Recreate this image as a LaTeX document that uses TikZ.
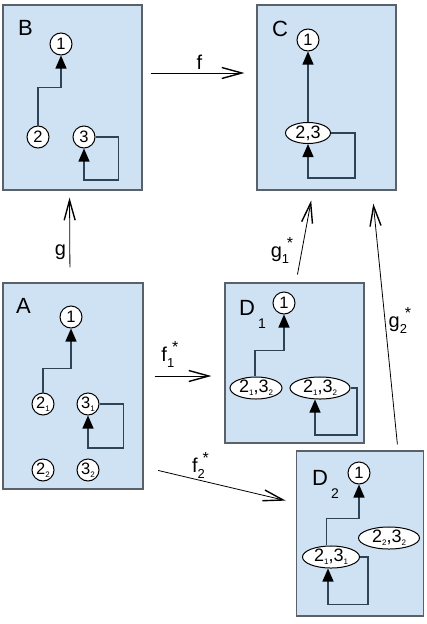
\documentclass[tikz,border=0pt]{standalone}
\usepackage{fontspec}
\setmainfont{Liberation Sans}
\usetikzlibrary{arrows.meta, shapes.geometric}

\definecolor{boxfill}{HTML}{CFE2F3}
\definecolor{boxline}{HTML}{5B6168}
\definecolor{linkline}{HTML}{2D4456}

\newcommand{\lowix}[1]{\raisebox{-3pt}{\fontsize{8}{8}\selectfont #1}}
\newcommand{\mapix}[2]{#1\rlap{\hspace{5pt}\raisebox{9pt}{\fontsize{16}{16}\selectfont *}}\raisebox{-6pt}{\fontsize{13}{13}\selectfont #2}}
\newcommand{\boxix}[2]{#1\hspace{3pt}\raisebox{-13pt}{\fontsize{14}{14}\selectfont #2}}

\begin{document}
\begin{tikzpicture}[x=1pt, y=-1pt,
  panel/.style={draw=boxline, fill=boxfill, line width=1.2pt, minimum width=139pt, inner sep=0pt},
  vert/.style={circle, draw=black, fill=white, line width=1pt, inner sep=0pt, minimum size=22pt, font=\fontsize{16.5}{16.5}\selectfont},
  merged/.style={ellipse, draw=black, fill=white, line width=1pt, inner sep=0pt, minimum height=19pt, font=\fontsize{18}{18}\selectfont},
  link/.style={draw=linkline, line width=1.2pt, -{Triangle[length=13pt, width=11pt, color=black]}},
  map/.style={line width=0.8pt, -{Straight Barb[length=20pt, width=11pt, line width=1.4pt]}},
  boxlabel/.style={font=\fontsize{22}{22}\selectfont, anchor=base west, inner sep=0pt},
  maplabel/.style={font=\fontsize{20}{20}\selectfont}]
  \useasboundingbox (0,0) rectangle (426,624);

  % the five panels
  \node[panel, minimum height=185pt] (boxB) at (72.5,97.5) {};
  \node[panel, minimum height=185pt] (boxC) at (326.5,97.5) {};
  \node[panel, minimum width=140pt, minimum height=206pt] (boxA) at (73,386) {};
  \node[panel, minimum height=160pt] (boxD1) at (294.5,363) {};
  \node[panel, minimum width=127pt, minimum height=165pt] (boxD2) at (360,533.5) {};

  % panel B
  \node[boxlabel] (labB) at (18,35) {B};
  \node[vert] (B1) at (61,44) {1};
  \node[vert] (B2) at (38,137) {2};
  \node[vert] (B3) at (84,137) {3};
  \draw[link] (B2.north) -- ++(0,-38) -| (B1.south);
  \draw[link] (B3.east) -| ++(23,43) -| (B3.south);

  % panel C
  \node[boxlabel] (labC) at (272,36) {C};
  \node[vert] (C1) at (308,40) {1};
  \node[merged, minimum width=45pt] (C23) at (308,133) {2,3};
  \draw[link] (C23.north) -- (C1.south);
  \draw[link] (C23.east) -| ++(24,45) -| (C23.south);

  % panel A
  \node[boxlabel] (labA) at (16,313) {A};
  \node[vert] (A1) at (71,317) {1};
  \node[vert] (A21) at (43,404) {2\lowix{1}};
  \node[vert] (A31) at (88,404) {3\lowix{1}};
  \node[vert] (A22) at (43,470) {2\lowix{2}};
  \node[vert] (A32) at (88,470) {3\lowix{2}};
  \draw[link] (A21.north) -- ++(0,-24) -| (A1.south);
  \draw[link] (A31.east) -| ++(24,44) -| (A31.south);

  % panel D_1
  \node[boxlabel] (labD1) at (239,315) {\boxix{D}{1}};
  \node[vert] (D11) at (284,303) {1};
  \node[merged, minimum width=52pt] (D1a) at (256,388) {2\lowix{1},3\lowix{2}};
  \node[merged, minimum width=60pt] (D1b) at (320,388) {2\lowix{1},3\lowix{2}};
  \draw[link] ([xshift=-1pt]D1a.north) -- ++(0,-26) -| (D11.south);
  \draw[link] (D1b.east) -| ++(6.5,47) -| ([xshift=-5pt]D1b.south);

  % panel D_2
  \node[boxlabel] (labD2) at (312,485) {\boxix{D}{2}};
  \node[vert] (D21) at (359,473) {1};
  \node[merged, minimum width=57pt] (D2a) at (331,557) {2\lowix{1},3\lowix{1}};
  \node[merged, minimum width=61pt] (D2b) at (389,538) {2\lowix{2},3\lowix{2}};
  \draw[link] ([xshift=-4.5pt]D2a.north) -- ++(0,-27) -| (D21.south);
  \draw[link] (D2a.east) -| ++(8,47.5) -| ([xshift=-3pt]D2a.south);

  % maps between the panels
  \draw[map, shorten <=8pt, shorten >=12pt]
    ([yshift=24.5pt]boxB.east) -- node[maplabel, above] {f} ([yshift=24.5pt]boxC.west);
  \draw[map, shorten <=15pt, shorten >=7pt]
    ([xshift=-3pt]boxA.north) -- node[maplabel, left, pos=0.3, yshift=3pt] {g} ([xshift=-3pt]boxB.south);
  \draw[map, shorten <=8pt, shorten >=10pt]
    ([xshift=1.5pt]boxD1.north) -- node[maplabel, left, pos=0.35, xshift=-9pt] {\mapix{g}{1}} ([xshift=-13.5pt]boxC.south);
  \draw[map, shorten <=6pt, shorten >=13pt]
    ([xshift=38pt]boxD2.north) -- node[maplabel, right, pos=0.5] {\mapix{g}{2}} ([xshift=45.5pt]boxC.south);
  \draw[map, shorten <=11pt, shorten >=13pt]
    ([yshift=10pt]boxA.east) -- node[maplabel, above, pos=0.3, yshift=5pt] {\mapix{f}{1}} ([yshift=-13pt]boxD1.west);
  \draw[map, shorten <=15pt, shorten >=10.5pt]
    ([yshift=-81pt]boxA.east) -- node[maplabel, above, pos=0.36, inner sep=1pt] {\mapix{f}{2}} ([yshift=30.5pt]boxD2.west);
\end{tikzpicture}
\end{document}
